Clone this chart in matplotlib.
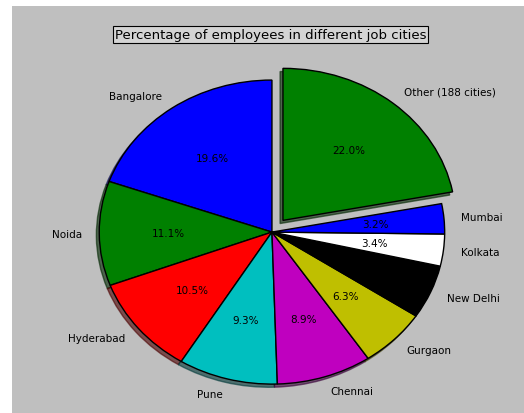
import matplotlib
matplotlib.use("Agg")
import matplotlib.pyplot as plt
from matplotlib.patches import Rectangle

cities = ['Bangalore', 'Noida', 'Hyderabad', 'Pune', 'Chennai', 'Gurgaon',
          'New Delhi', 'Kolkata', 'Mumbai', 'Other (188 cities)']
shares = [19.6, 11.1, 10.5, 9.3, 8.9, 6.3, 5.7, 3.4, 3.2, 22.0]
explode = [0, 0, 0, 0, 0, 0, 0, 0, 0, 0.1]
colors = ['b', 'g', 'r', 'c', 'm', 'y', 'k', 'w', 'b', 'g']

bg = '#bfbfbf'
fig = plt.figure(figsize=(5.24, 4.14), dpi=100, facecolor='white')
# grey canvas with a thin white strip at the left and top
fig.patches.append(Rectangle((12 / 524, 0), 1, 1 - 7 / 414, transform=fig.transFigure,
                             facecolor=bg, edgecolor='none', zorder=-10))

ax = fig.add_axes([0.107, -0.022, 0.824, 0.918])
ax.set_facecolor('none')
ax.set_zorder(1)
ax.pie(shares, labels=cities, colors=colors, explode=explode, autopct='%1.1f%%',
       startangle=90, shadow={'ox': -0.012, 'oy': -0.015, 'alpha': 0.6},
       pctdistance=0.6, labeldistance=1.1,
       wedgeprops={'edgecolor': 'black', 'linewidth': 1},
       textprops={'fontsize': 7.5})
ax.set_aspect('auto')
ax.set_xlim(-1.25, 1.25)
ax.set_ylim(-1.25, 1.25)
ax.axis('off')

fig.text(0.516, 0.915, 'Percentage of employees in different job cities',
         ha='center', va='center', fontsize=9.5, zorder=2,
         bbox=dict(facecolor='#d4d4d4', edgecolor='black', linewidth=0.8, pad=1.5))

plt.savefig('out.png', dpi=100, facecolor=fig.get_facecolor())
plt.close()
